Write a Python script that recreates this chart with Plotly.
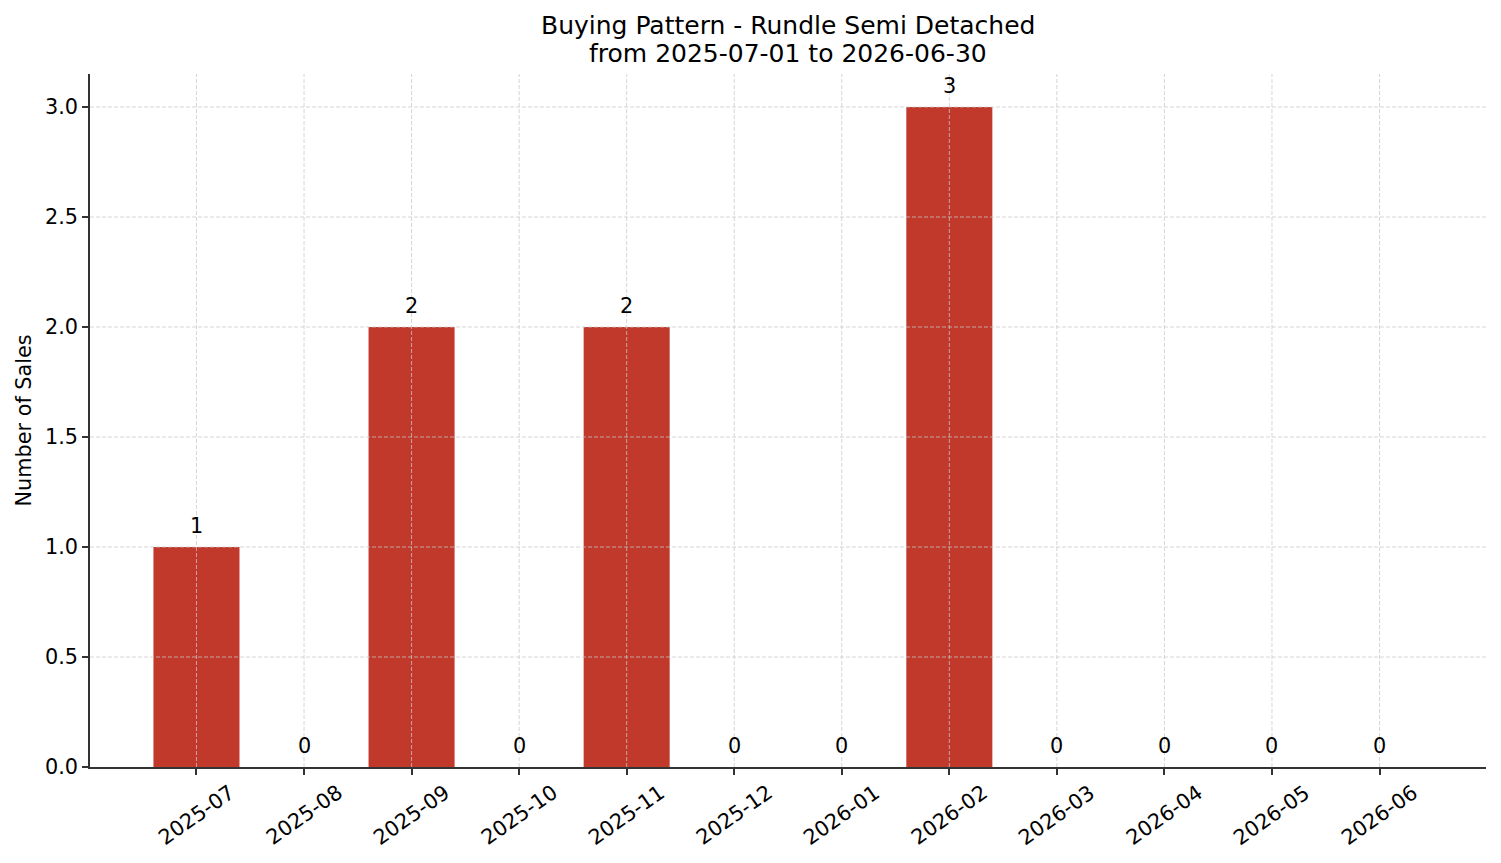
import plotly.graph_objects as go

months = ["2025-07", "2025-08", "2025-09", "2025-10", "2025-11", "2025-12",
          "2026-01", "2026-02", "2026-03", "2026-04", "2026-05", "2026-06"]
sales = [1, 0, 2, 0, 2, 0, 0, 3, 0, 0, 0, 0]
y_ticks = [0.0, 0.5, 1.0, 1.5, 2.0, 2.5, 3.0]

title_line1 = "Buying Pattern - Rundle Semi Detached"
title_line2 = "from 2025-07-01 to 2026-06-30"
y_label = "Number of Sales"

FONT = "DejaVu Sans"
BAR_COLOR = "#c0392b"
AXIS_COLOR = "#333333"
GRID_COLOR = "rgba(200,200,200,0.75)"

idx = list(range(len(months)))

fig = go.Figure()
fig.add_trace(go.Bar(
    x=idx, y=sales, width=0.8,
    marker=dict(color=BAR_COLOR, line=dict(width=0)),
    hoverinfo="x+y",
))

shapes = []
for i in idx:
    shapes.append(dict(type="line", xref="x", yref="paper", x0=i, x1=i, y0=0, y1=1,
                       line=dict(color=GRID_COLOR, width=1, dash="4px,2px"), layer="above"))
for t in y_ticks[1:]:
    shapes.append(dict(type="line", xref="paper", yref="y", x0=0, x1=1, y0=t, y1=t,
                       line=dict(color=GRID_COLOR, width=1, dash="4px,2px"), layer="above"))

annotations = []
for i, v in zip(idx, sales):
    annotations.append(dict(x=i, y=v, xref="x", yref="y", text=str(v), showarrow=False,
                            yanchor="middle", yshift=21,
                            font=dict(family=FONT, size=20.8, color="black")))
for i, m in zip(idx, months):
    annotations.append(dict(x=i, y=0, xref="x", yref="paper", text=m, showarrow=False,
                            xanchor="center", yanchor="middle", yshift=-48, textangle=-35,
                            font=dict(family=FONT, size=20.8, color="black")))
annotations.append(dict(x=0, y=0.5, xref="paper", yref="paper", text=y_label, showarrow=False,
                        xanchor="center", yanchor="middle", xshift=-67, textangle=-90,
                        font=dict(family=FONT, size=20.8, color="black")))
annotations.append(dict(x=0.5, y=1, xref="paper", yref="paper", text=title_line1, showarrow=False,
                        xanchor="center", yanchor="middle", yshift=49,
                        font=dict(family=FONT, size=25, color="black")))
annotations.append(dict(x=0.5, y=1, xref="paper", yref="paper", text=title_line2, showarrow=False,
                        xanchor="center", yanchor="middle", yshift=21,
                        font=dict(family=FONT, size=25, color="black")))

fig.update_layout(
    width=1501, height=863,
    margin=dict(l=90, r=15, t=74, b=96),
    paper_bgcolor="white", plot_bgcolor="white",
    font=dict(family=FONT, size=20.8, color="black"),
    showlegend=False,
    shapes=shapes,
    annotations=annotations,
    bargap=0.2,
)
fig.update_xaxes(
    range=[-0.99, 11.99], tickmode="array", tickvals=idx, showticklabels=False,
    showgrid=False, zeroline=False, showline=True, linecolor=AXIS_COLOR, linewidth=1.7,
    ticks="outside", ticklen=6, tickwidth=1.6, tickcolor=AXIS_COLOR, mirror=False,
)
fig.update_yaxes(
    range=[0, 3.15], tickmode="array", tickvals=y_ticks,
    ticktext=[f"{t:.1f}" for t in y_ticks],
    showgrid=False, zeroline=False, showline=True, linecolor=AXIS_COLOR, linewidth=1.7,
    ticks="outside", ticklen=6, tickwidth=1.6, tickcolor=AXIS_COLOR, mirror=False,
    tickfont=dict(family=FONT, size=20.8, color="black"),
)

fig.write_html("out.html")
